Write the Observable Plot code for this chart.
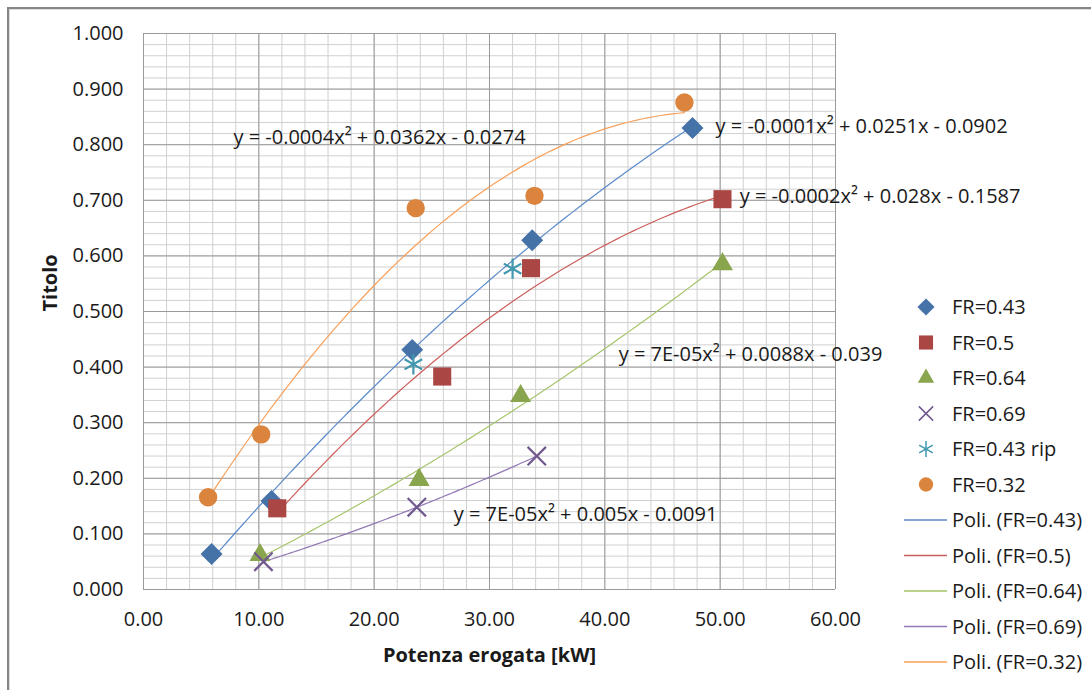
<!DOCTYPE html>
<html><head><meta charset="utf-8">
<script src="https://cdn.jsdelivr.net/npm/d3@7"></script>
<script src="https://cdn.jsdelivr.net/npm/@observablehq/plot@0.6"></script>
<style>
body{margin:0;background:#fff;font-family:"Open Sans",sans-serif;}
#wrap{position:relative;width:1091px;height:690px;overflow:hidden;background:#fff;}
#frame{position:absolute;left:7px;top:7px;width:1200px;height:800px;border-top:2px solid #868686;border-left:2px solid #868686;box-shadow:inset 1px 1px 0 #dcdcdc;}
#chart{position:absolute;left:0;top:0;}
#legend{position:absolute;left:896px;top:289px;}
</style></head><body>
<div id="wrap"><div id="frame"></div><div id="chart"></div><div id="legend"></div></div>
<script>
// ---- data ----
const fr043x = [5.9, 11.1, 23.3, 33.7, 47.6];
const fr043y = [0.064, 0.159, 0.431, 0.628, 0.830];
const fr050x = [11.6, 25.9, 33.6, 50.2];
const fr050y = [0.146, 0.383, 0.578, 0.702];
const fr064x = [10.1, 23.9, 32.7, 50.2];
const fr064y = [0.062, 0.197, 0.348, 0.585];
const fr069x = [10.4, 23.7, 34.1];
const fr069y = [0.050, 0.148, 0.240];
const fr043ripx = [23.4, 32.0];
const fr043ripy = [0.405, 0.577];
const fr032x = [5.6, 10.2, 23.6, 33.9, 46.9];
const fr032y = [0.166, 0.279, 0.686, 0.708, 0.876];

const seriesNames = ["FR=0.43","FR=0.5","FR=0.64","FR=0.69","FR=0.43 rip","FR=0.32"];
const trendNames = ["Poli. (FR=0.43)","Poli. (FR=0.5)","Poli. (FR=0.64)","Poli. (FR=0.69)","Poli. (FR=0.32)"];
const equations = [
  "y = -0.0001x\u00B2 + 0.0251x - 0.0902",
  "y = -0.0002x\u00B2 + 0.028x - 0.1587",
  "y = 7E-05x\u00B2 + 0.0088x - 0.039",
  "y = 7E-05x\u00B2 + 0.005x - 0.0091",
  "y = -0.0004x\u00B2 + 0.0362x - 0.0274"
];
const eqX = [49.6, 51.7, 41.2, 26.9, 7.8];
const eqY = [0.833, 0.706, 0.423, 0.134, 0.813];
const xTicks = [0,10,20,30,40,50,60];
const yTicks = [0,0.1,0.2,0.3,0.4,0.5,0.6,0.7,0.8,0.9,1.0];
const xTitle = "Potenza erogata [kW]";
const yTitle = "Titolo";

// ---- styles ----
const markerColors = ["#4572A7","#AA4643","#89A54E","#71588F","#4198AF","#DB843D"];
const symbols = ["diamond2","square","triangle","times","asterisk","circle"];
const radii = [9.9, 10.2, 7.8, 8.4, 9.6, 9.2];
const trendColors = ["#5B8ACB","#CC5E5B","#A6C46A","#9279B5","#F8A05A"];
const FS = 20;

const pts = (xs, ys) => xs.map((x,i)=>({x, y: ys[i]}));
const pointSets = [pts(fr043x,fr043y), pts(fr050x,fr050y), pts(fr064x,fr064y), pts(fr069x,fr069y), pts(fr043ripx,fr043ripy), pts(fr032x,fr032y)];
const trendSets = [pointSets[0], pointSets[1], pointSets[2], pointSets[3], pointSets[5]];

// quadratic least-squares trendline (like Excel's polynomial trendline)
function quadFit(data){
  let S=[0,0,0,0,0], T=[0,0,0];
  for(const {x,y} of data){ for(let k=0;k<5;k++) S[k]+=x**k; for(let k=0;k<3;k++) T[k]+=y*x**k; }
  const A=[[S[0],S[1],S[2],T[0]],[S[1],S[2],S[3],T[1]],[S[2],S[3],S[4],T[2]]];
  for(let i=0;i<3;i++){ for(let j=i+1;j<3;j++){ const f=A[j][i]/A[i][i]; for(let k=i;k<4;k++) A[j][k]-=f*A[i][k]; } }
  const c=[0,0,0];
  for(let i=2;i>=0;i--){ let s=A[i][3]; for(let k=i+1;k<3;k++) s-=A[i][k]*c[k]; c[i]=s/A[i][i]; }
  const [x0,x1]=d3.extent(data,d=>d.x);
  return d3.range(0,81).map(t=>{ const x=x0+(x1-x0)*t/80; return {x, y:c[0]+c[1]*x+c[2]*x*x}; });
}
const curves = trendSets.map(quadFit);

const minorX = d3.range(0,61,2), minorY = d3.range(0,51).map(i=>i/50);

const marks = [
  Plot.ruleX(minorX, {stroke:"#d0d0d0", strokeWidth:1}),
  Plot.ruleY(minorY, {stroke:"#d0d0d0", strokeWidth:1}),
  Plot.ruleX(xTicks, {stroke:"#9a9a9a", strokeWidth:1}),
  Plot.ruleY(yTicks, {stroke:"#9a9a9a", strokeWidth:1}),
  ...curves.map((c,i)=>Plot.line(c,{x:"x",y:"y",stroke:trendColors[i],strokeWidth:1.2, curve:"linear"})),
  ...pointSets.map((p,i)=>{
    const stroked = symbols[i]==="times"||symbols[i]==="asterisk";
    return Plot.dot(p,{x:"x",y:"y",symbol:()=>symbols[i],r:radii[i],
      fill: stroked?"none":markerColors[i], stroke: stroked?markerColors[i]:"none", strokeWidth: stroked?2.2:0});
  }),
  Plot.text(equations.map((t,i)=>({t,x:eqX[i],y:eqY[i]})),{x:"x",y:"y",text:"t",textAnchor:"start",fill:"#1a1a1a",fontSize:FS}),
  Plot.axisX(xTicks,{tickFormat:d3.format(".2f"),tickSize:0,tickPadding:22,label:null,fontSize:FS}),
  Plot.axisY(yTicks,{tickFormat:d3.format(".3f"),tickSize:0,tickPadding:20,label:null,fontSize:FS}),
  Plot.text([xTitle],{frameAnchor:"bottom",lineAnchor:"middle",dy:66,fontWeight:"bold",fontSize:FS,fill:"#1a1a1a"}),
  Plot.text([yTitle],{frameAnchor:"left",lineAnchor:"middle",dx:-93,rotate:-90,fontWeight:"bold",fontSize:FS,fill:"#1a1a1a"})
];

const chart = Plot.plot({
  width:1091, height:690,
  marginLeft:143, marginRight:256, marginTop:33, marginBottom:101,
  x:{domain:[0,60]}, y:{domain:[0,1]},
  style:{fontFamily:"'Open Sans',sans-serif", fontSize:FS+"px", color:"#1a1a1a", background:"transparent"},
  marks
});
document.getElementById("chart").append(chart);

// ---- legend ----
const rowH = 35.5;
const lg = d3.select("#legend").append("svg").attr("width",195).attr("height",11*rowH+10)
  .style("font-family","'Open Sans',sans-serif").style("font-size",FS+"px");
const symMap = {diamond2:d3.symbolDiamond2, square:d3.symbolSquare, triangle:d3.symbolTriangle, times:d3.symbolTimes, asterisk:d3.symbolAsterisk, circle:d3.symbolCircle};
seriesNames.forEach((n,i)=>{
  const cy = 18 + i*rowH;
  const stroked = symbols[i]==="times"||symbols[i]==="asterisk";
  const r = radii[i]*0.78;
  lg.append("path").attr("d", d3.symbol(symMap[symbols[i]], Math.PI*r*r)())
    .attr("transform",`translate(30,${cy})`)
    .attr("fill", stroked?"none":markerColors[i]).attr("stroke", stroked?markerColors[i]:"none").attr("stroke-width",1.5);
  lg.append("text").attr("x",56).attr("y",cy).attr("dy","0.35em").attr("fill","#1a1a1a").text(n);
});
trendNames.forEach((n,i)=>{
  const cy = 18 + (6+i)*rowH;
  lg.append("line").attr("x1",8).attr("x2",51).attr("y1",cy).attr("y2",cy).attr("stroke",trendColors[i]).attr("stroke-width",1.5);
  lg.append("text").attr("x",56).attr("y",cy).attr("dy","0.35em").attr("fill","#1a1a1a").text(n);
});
</script>
</body></html>
